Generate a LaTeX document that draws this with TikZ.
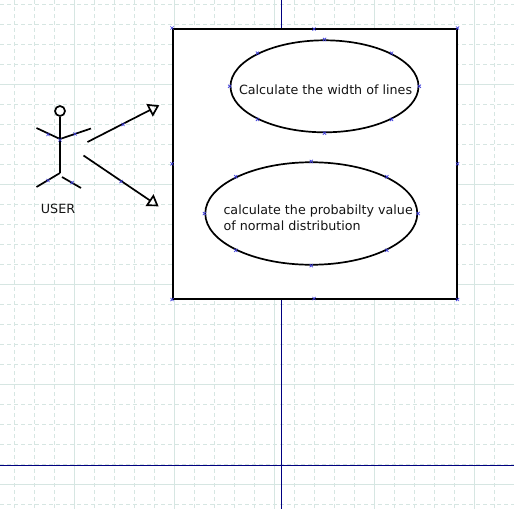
\documentclass[tikz,border=0pt]{standalone}
\usepackage{fontspec}
\setmainfont{DejaVu Sans}
\usetikzlibrary{shapes.geometric,arrows.meta}
\definecolor{gridc}{RGB}{214,230,226}
\definecolor{axisc}{RGB}{0,0,128}
\definecolor{handlec}{RGB}{60,60,220}
\definecolor{inkc}{RGB}{20,20,20}
\tikzset{
  gridmajor/.style={draw=gridc,line width=1pt},
  gridminor/.style={draw=gridc,line width=1pt,dash pattern=on 4pt off 3pt},
  axisline/.style={draw=axisc,line width=1pt},
  umlline/.style={draw=black,line width=1.7pt},
  umlarrow/.style={umlline,-{Triangle[open,length=11pt,width=14pt,line width=1.7pt]}},
  usecase/.style={ellipse,draw=black,line width=1.7pt,fill=white,inner sep=0pt},
  label text/.style={font=\fontsize{12.7pt}{16pt}\selectfont,text=inkc,inner sep=0pt},
  hmark/.style={draw=handlec,line width=.7pt}
}
\newcommand{\hm}[1]{\draw[hmark] (#1)+(-1.6,-1.6)--+(1.6,1.6) (#1)+(-1.6,1.6)--+(1.6,-1.6);}
\begin{document}
\begin{tikzpicture}[x=1pt,y=-1pt]
\useasboundingbox (0,0) rectangle (514,509);
\fill[white] (0,0) rectangle (514,509);
% grid
\foreach \k in {0,...,25}{
  \pgfmathsetmacro{\gx}{14.5+20*\k}
  \draw[gridminor] (\gx,0) -- (\gx,509);
}
\foreach \k in {0,...,25}{
  \pgfmathsetmacro{\gy}{4.5+20*\k}
  \draw[gridminor] (0,\gy) -- (514,\gy);
}
\foreach \gx in {74.5,174.5,274.5,374.5,474.5} \draw[gridmajor] (\gx,0) -- (\gx,509);
\foreach \gy in {84.5,184.5,284.5,384.5,484.5} \draw[gridmajor] (0,\gy) -- (514,\gy);
% axes
\draw[axisline] (281.5,0) -- (281.5,509);
\draw[axisline] (0,465.5) -- (514,465.5);
% system box
\node[draw=black,line width=2pt,fill=white,minimum width=283.5pt,minimum height=269.5pt,inner sep=0pt] (sys) at (314.75,163.75) {};
% use cases
\node[usecase,minimum width=188pt,minimum height=92pt] (uc1) at (324.5,86.3) {};
\node[usecase,minimum width=212pt,minimum height=102.5pt] (uc2) at (311.3,213.5) {};
\node[label text,anchor=base] (uc1t) at (325.6,94) {Calculate the width of lines};
\node[label text,anchor=base west] (uc2a) at (223.3,214) {calculate the probabilty value};
\node[label text,anchor=base west] (uc2b) at (223.3,230) {of normal distribution};
% actor
\node[circle,draw=black,line width=1.7pt,minimum size=10pt,inner sep=0pt] (head) at (60,111) {};
\coordinate (neck) at (60,139);
\coordinate (hip) at (60,173);
\coordinate (handl) at (36.5,128);
\coordinate (handr) at (91,128.5);
\coordinate (footl) at (36.5,187);
\coordinate (legrtop) at (62,177);
\coordinate (footr) at (81,188);
\draw[umlline] (head.south) -- (neck) -- (hip);
\draw[umlline] (handl) -- (neck) -- (handr);
\draw[umlline] (footl) -- (hip);
\draw[umlline] (legrtop) -- (footr);
\node[label text,anchor=base] (user) at (58,213) {USER};
% arrows
\coordinate (a1s) at (87.5,142);
\coordinate (a1e) at (159.3,105.3);
\coordinate (a2s) at (83.5,155.5);
\coordinate (a2e) at (158.6,206.3);
\draw[umlarrow] (a1s) -- (a1e);
\draw[umlarrow] (a2s) -- (a2e);
% handles
\foreach \a in {north,south,east,west,north east,north west,south east,south west}{
  \hm{uc1.\a}
  \hm{uc2.\a}
}
\foreach \a in {north west,north east,south west,south east,west,east}{\hm{sys.\a}}
\coordinate (sysn) at (314,29); \hm{sysn}
\coordinate (syss) at (314,298.5); \hm{syss}
\foreach \px/\py in {48/134.5,75/134,60/140,48/180.5,72/182.5,123/124.5,121/181.5}{
  \coordinate (tmp) at (\px,\py); \hm{tmp}
}
\end{tikzpicture}
\end{document}
